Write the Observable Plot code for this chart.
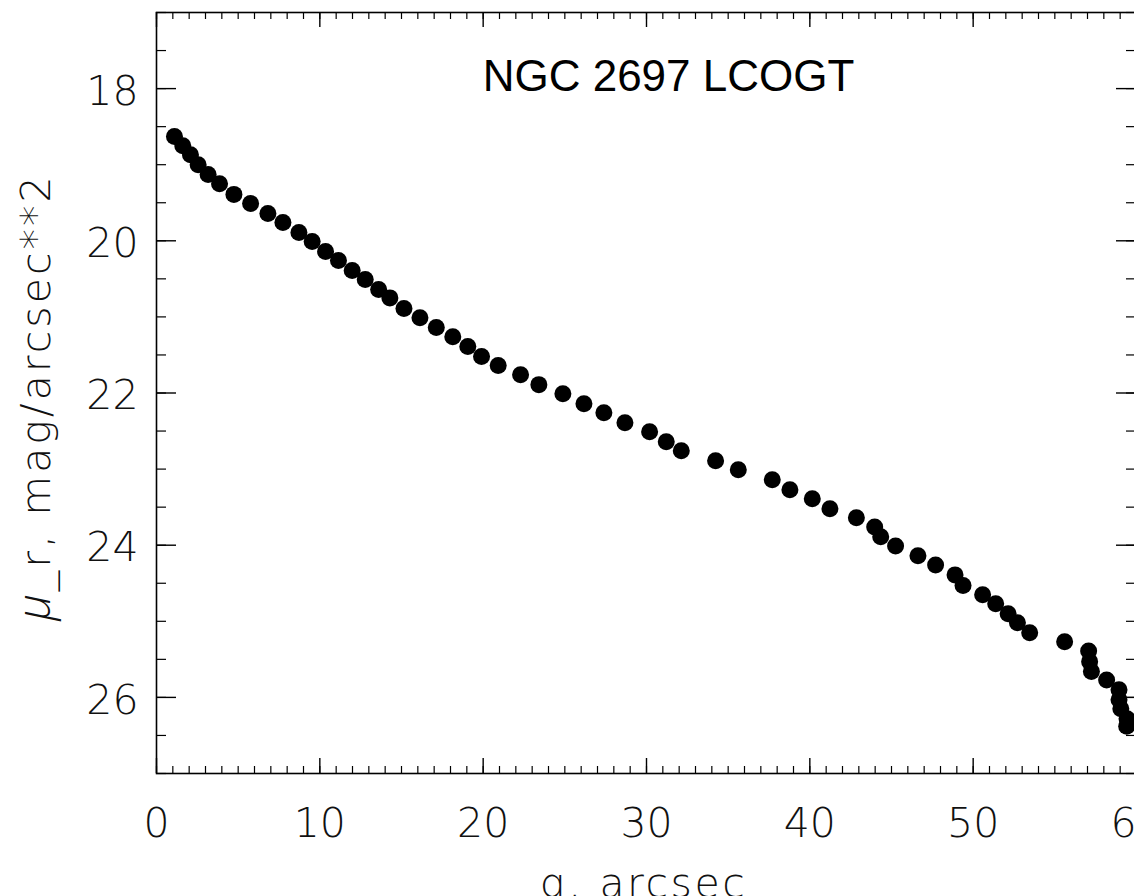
<!DOCTYPE html>
<html>
<head>
<meta charset="utf-8">
<script src="https://cdn.jsdelivr.net/npm/d3@7"></script>
<script src="https://cdn.jsdelivr.net/npm/@observablehq/plot@0.6"></script>
<style>
  html, body { margin: 0; padding: 0; background: #fff; overflow: hidden; width: 1134px; height: 896px; }
  #chart { width: 1180px; }
</style>
</head>
<body>
<div id="chart"></div>
<script>
// Radius q (arcsec)
const radius = [1.10,1.61,2.08,2.55,3.16,3.86,4.74,5.76,6.82,7.74,8.72,9.53,10.35,11.14,11.98,12.78,13.60,14.29,15.15,16.13,17.13,18.14,19.06,19.90,20.92,22.29,23.41,24.88,26.17,27.39,28.68,30.19,31.21,32.13,34.23,35.62,37.70,38.78,40.15,41.23,42.85,43.97,44.34,45.25,46.62,47.70,48.89,49.38,50.58,51.38,52.14,52.71,53.46,55.60,57.07,57.13,57.24,58.17,58.93,58.93,59.04,59.42,59.40];
// Surface brightness mu_r (mag/arcsec^2)
const surfBright = [18.63,18.75,18.87,19.00,19.13,19.25,19.39,19.51,19.64,19.76,19.89,20.01,20.14,20.26,20.39,20.51,20.64,20.75,20.89,21.01,21.14,21.26,21.39,21.52,21.64,21.76,21.89,22.01,22.14,22.26,22.39,22.51,22.64,22.76,22.89,23.01,23.14,23.27,23.39,23.52,23.64,23.76,23.89,24.01,24.14,24.26,24.39,24.53,24.65,24.77,24.90,25.02,25.15,25.27,25.39,25.53,25.66,25.77,25.90,26.03,26.15,26.28,26.38];

const xMajorTicks = [0, 10, 20, 30, 40, 50, 60];
const xMinorTicks = d3.range(0, 61, 1);
const yMajorTicks = [18, 20, 22, 24, 26];
const yMinorTicks = d3.range(17, 27.01, 0.5);

const titleText = "NGC 2697 LCOGT";
const xLabel = "q, arcsec";
const yLabel = "μ_r, mag/arcsec**2";

const points = radius.map((q, i) => ({q, mu: surfBright[i]}));

const W = 1180, H = 896;
const mL = 156, mR = 44, mT = 12, mB = 123;
const fw = W - mL - mR, fh = H - mT - mB;

const tickFont = "'DejaVu Sans', 'Open Sans', sans-serif";
const ink = "#000";

const chart = Plot.plot({
  width: W,
  height: H,
  marginLeft: mL,
  marginRight: mR,
  marginTop: mT,
  marginBottom: mB,
  style: {fontFamily: tickFont, background: "#fff", color: ink},
  x: {domain: [0, 60], axis: null},
  y: {domain: [17, 27], reverse: true, axis: null},
  marks: [
    Plot.frame({stroke: ink, strokeWidth: 1.6}),
    // bottom ticks
    Plot.tickX(xMinorTicks, {x: d => d, insetTop: fh - 7, stroke: ink, strokeWidth: 1.2}),
    Plot.tickX(xMajorTicks, {x: d => d, insetTop: fh - 15, stroke: ink, strokeWidth: 1.4}),
    // top ticks
    Plot.tickX(xMinorTicks, {x: d => d, insetBottom: fh - 7, stroke: ink, strokeWidth: 1.2}),
    Plot.tickX(xMajorTicks, {x: d => d, insetBottom: fh - 15, stroke: ink, strokeWidth: 1.4}),
    // left ticks
    Plot.tickY(yMinorTicks, {y: d => d, insetRight: fw - 10, stroke: ink, strokeWidth: 1.2}),
    Plot.tickY(yMajorTicks, {y: d => d, insetRight: fw - 20, stroke: ink, strokeWidth: 1.4}),
    // right ticks
    Plot.tickY(yMinorTicks, {y: d => d, insetLeft: fw - 10, stroke: ink, strokeWidth: 1.2}),
    Plot.tickY(yMajorTicks, {y: d => d, insetLeft: fw - 20, stroke: ink, strokeWidth: 1.4}),
    // tick labels
    Plot.axisX(xMajorTicks, {anchor: "bottom", tickSize: 0, tickPadding: 34, fontSize: 41, fontWeight: 200, fill: "#111", tickFormat: d => String(d), label: null}),
    Plot.axisY(yMajorTicks, {anchor: "left", tickSize: 0, tickPadding: 18, fontSize: 41, fontWeight: 200, fill: "#111", dy: 3, tickFormat: d => String(d), label: null}),
    // data
    Plot.dot(points, {x: "q", y: "mu", r: 8.5, fill: ink, stroke: "none"}),
    // title
    Plot.text([titleText], {frameAnchor: "top", text: d => d, dx: 22, dy: 78, lineAnchor: "bottom", fontSize: 44, fontFamily: "'Liberation Sans', Arial, sans-serif", fill: ink}),
    // x label
    Plot.text([xLabel], {frameAnchor: "bottom", text: d => d, dx: -3, dy: 123, lineAnchor: "bottom", fontSize: 41, fontWeight: 200, fill: "#111", className: "xlab"}),
    // y label
    Plot.text([yLabel], {frameAnchor: "left", textAnchor: "middle", text: d => d, rotate: -90, dx: -107, dy: 4, lineAnchor: "bottom", fontSize: 41, fontWeight: 200, fill: "#111", className: "ylab"})
  ]
});

document.getElementById("chart").appendChild(chart);

// Letter spacing like the original vector font, and italic Greek mu
d3.select(chart).selectAll(".xlab text").attr("letter-spacing", "2.5px");
d3.select(chart).selectAll(".ylab text").each(function() {
  const t = d3.select(this);
  const s = t.text();
  t.text(null).attr("letter-spacing", "3px");
  t.append("tspan")
    .attr("font-style", "italic")
    .attr("font-family", "'Open Sans', 'DejaVu Sans', sans-serif")
    .attr("font-weight", 300)
    .attr("font-size", 46)
    .text(s.slice(0, 1));
  t.append("tspan").text(s.slice(1));
});
</script>
</body>
</html>
